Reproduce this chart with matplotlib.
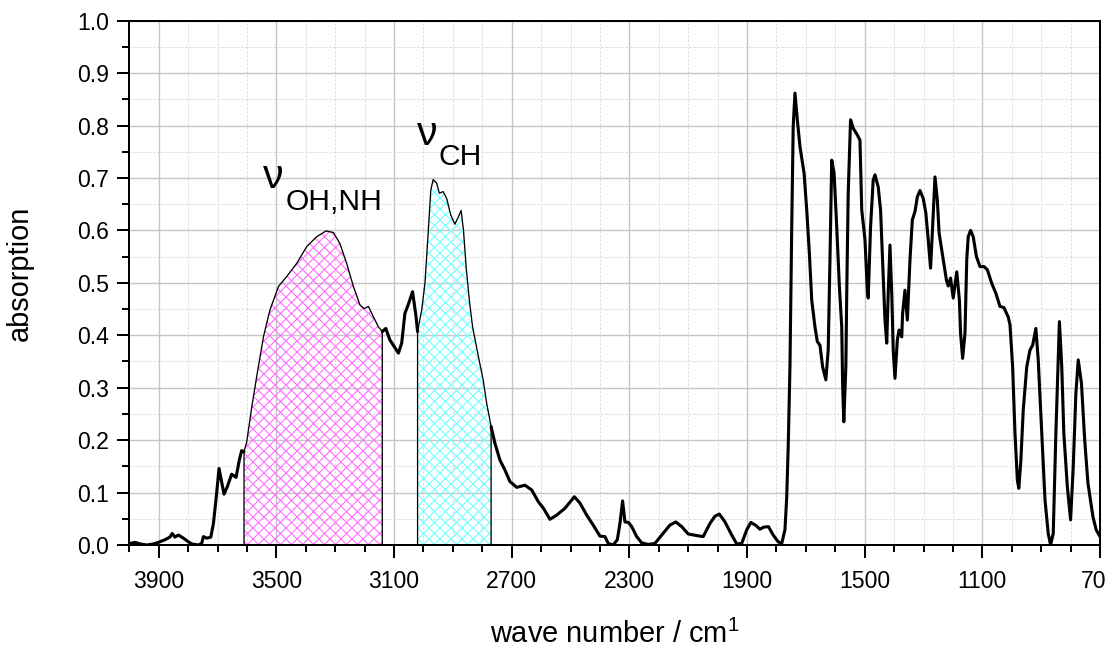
import numpy as np
import matplotlib
matplotlib.use("Agg")
import matplotlib.pyplot as plt
from matplotlib.ticker import MultipleLocator, FixedLocator, FormatStrFormatter

# ---------------- data ----------------
wavenumber = [
    3997, 3980, 3963, 3941, 3918, 3901, 3879, 3862, 3854, 3845, 3833, 3816, 3799, 3788,
    3765, 3754, 3748, 3737, 3723, 3714, 3703, 3695, 3678, 3667, 3652, 3637, 3626, 3618,
    3610, 3601, 3584, 3567, 3544, 3522, 3493, 3465, 3431, 3397, 3363, 3331, 3306, 3284,
    3261, 3238, 3216, 3202, 3187, 3170, 3153, 3140, 3128, 3114, 3099, 3085, 3074, 3063,
    3052, 3037, 3025, 3020, 3006, 2995, 2984, 2975, 2967, 2955, 2946, 2933, 2921, 2907,
    2893, 2881, 2872, 2864, 2855, 2844, 2833, 2813, 2797, 2785, 2770, 2757, 2740, 2723,
    2706, 2683, 2655, 2632, 2610, 2592, 2570, 2547, 2519, 2487, 2468, 2445, 2423, 2400,
    2383, 2372, 2355, 2341, 2332, 2323, 2315, 2303, 2292, 2275, 2258, 2236, 2213, 2190,
    2162, 2142, 2122, 2100, 2071, 2049, 2026, 2009, 1994, 1975, 1952, 1935, 1918, 1901,
    1887, 1869, 1856, 1844, 1827, 1811, 1794, 1782, 1771, 1765, 1760, 1754, 1748, 1743,
    1737, 1729, 1720, 1706, 1697, 1688, 1680, 1669, 1661, 1652, 1643, 1632, 1624, 1618,
    1612, 1604, 1595, 1586, 1578, 1575, 1571, 1564, 1561, 1556, 1548, 1539, 1525, 1516,
    1510, 1499, 1491, 1488, 1480, 1471, 1465, 1454, 1446, 1437, 1431, 1425, 1420, 1414,
    1408, 1403, 1397, 1389, 1383, 1374, 1371, 1363, 1355, 1346, 1338, 1329, 1321, 1312,
    1301, 1292, 1284, 1276, 1269, 1261, 1253, 1247, 1233, 1222, 1216, 1208, 1199, 1187,
    1178, 1174, 1167, 1159, 1153, 1148, 1140, 1131, 1120, 1108, 1094, 1083, 1068, 1054,
    1040, 1027, 1012, 1006, 997, 989, 981, 976, 969, 961, 949, 938, 929, 918,
    910, 898, 887, 876, 868, 859, 850, 838, 830, 823, 811, 800, 791, 782,
    774, 763, 752, 741, 724, 713, 700,
]
absorption = [
    0.003, 0.005, 0.002, 0.000, 0.002, 0.005, 0.010, 0.015, 0.022, 0.015, 0.019, 0.013, 0.006, 0.002,
    0.000, 0.003, 0.016, 0.013, 0.015, 0.041, 0.099, 0.146, 0.097, 0.111, 0.135, 0.129, 0.162, 0.180,
    0.178, 0.196, 0.262, 0.321, 0.397, 0.448, 0.493, 0.512, 0.537, 0.569, 0.588, 0.599, 0.596, 0.575,
    0.537, 0.493, 0.458, 0.451, 0.455, 0.435, 0.416, 0.407, 0.413, 0.391, 0.378, 0.366, 0.385, 0.442,
    0.458, 0.483, 0.435, 0.407, 0.448, 0.499, 0.595, 0.677, 0.697, 0.690, 0.671, 0.674, 0.661, 0.629,
    0.612, 0.626, 0.638, 0.601, 0.531, 0.467, 0.416, 0.359, 0.315, 0.270, 0.226, 0.194, 0.162, 0.143,
    0.121, 0.110, 0.114, 0.105, 0.083, 0.070, 0.049, 0.057, 0.070, 0.092, 0.080, 0.057, 0.038, 0.017,
    0.016, 0.003, 0.000, 0.010, 0.041, 0.084, 0.044, 0.043, 0.035, 0.016, 0.004, 0.001, 0.003, 0.019,
    0.038, 0.044, 0.035, 0.021, 0.018, 0.016, 0.041, 0.055, 0.059, 0.044, 0.019, 0.002, 0.003, 0.029,
    0.043, 0.037, 0.030, 0.034, 0.035, 0.019, 0.006, 0.003, 0.029, 0.092, 0.187, 0.340, 0.607, 0.798,
    0.862, 0.811, 0.760, 0.709, 0.639, 0.556, 0.467, 0.416, 0.388, 0.381, 0.340, 0.315, 0.372, 0.544,
    0.734, 0.709, 0.607, 0.493, 0.416, 0.308, 0.235, 0.340, 0.480, 0.671, 0.811, 0.795, 0.782, 0.772,
    0.639, 0.582, 0.486, 0.471, 0.607, 0.696, 0.706, 0.683, 0.639, 0.512, 0.429, 0.385, 0.480, 0.572,
    0.480, 0.372, 0.318, 0.391, 0.410, 0.397, 0.442, 0.486, 0.429, 0.544, 0.620, 0.636, 0.664, 0.676,
    0.661, 0.633, 0.582, 0.528, 0.607, 0.702, 0.658, 0.595, 0.544, 0.505, 0.494, 0.509, 0.471, 0.521,
    0.467, 0.404, 0.356, 0.404, 0.544, 0.588, 0.600, 0.588, 0.550, 0.531, 0.531, 0.525, 0.499, 0.480,
    0.455, 0.453, 0.435, 0.420, 0.340, 0.213, 0.124, 0.108, 0.162, 0.257, 0.340, 0.372, 0.381, 0.413,
    0.353, 0.213, 0.086, 0.022, 0.000, 0.022, 0.213, 0.426, 0.340, 0.213, 0.111, 0.048, 0.149, 0.289,
    0.353, 0.308, 0.200, 0.118, 0.054, 0.029, 0.016,
]
oh_nh_range = (3610, 3140)   # shaded nu(OH,NH) band
ch_range = (3020, 2770)      # shaded nu(CH) band
x_major_ticks = [3900, 3500, 3100, 2700, 2300, 1900, 1500, 1100, 700]
y_major_ticks = [0.0, 0.1, 0.2, 0.3, 0.4, 0.5, 0.6, 0.7, 0.8, 0.9, 1.0]

# ---------------- style ----------------
DPI = 132
W, H = 1105, 652


def px(v):
    return v * 72.0 / DPI


plt.rcParams["font.family"] = ["Liberation Sans", "DejaVu Sans"]
plt.rcParams["mathtext.fontset"] = "custom"
plt.rcParams["mathtext.rm"] = "Liberation Sans"
plt.rcParams["mathtext.it"] = "Liberation Sans:italic"
plt.rcParams["hatch.linewidth"] = px(1.1)

x = np.array(wavenumber, dtype=float)
y = np.array(absorption, dtype=float)

fig = plt.figure(figsize=(W / DPI, H / DPI), dpi=DPI)
L, R, T, B = 129.3, 1100.0, 20.7, 545.0
ax = fig.add_axes([L / W, (H - B) / H, (R - L) / W, (B - T) / H])
ax.set_xlim(4000, 700)
ax.set_ylim(0, 1.0)

# grid
ax.set_axisbelow(True)
ax.xaxis.set_major_locator(FixedLocator(x_major_ticks))
ax.xaxis.set_minor_locator(MultipleLocator(100))
ax.yaxis.set_major_locator(FixedLocator(y_major_ticks))
ax.yaxis.set_minor_locator(MultipleLocator(0.05))
ax.yaxis.set_major_formatter(FormatStrFormatter("%.1f"))
ax.grid(which="major", color="#c6c6c6", lw=px(1.4), ls="-")
ax.grid(which="minor", color="#d6d6d6", lw=px(1.0), ls=(0, (2, 2)))

# shaded bands
for (hi, lo), col in ((oh_nh_range, "#ff6eff"), (ch_range, "#6effff")):
    m = (x <= hi) & (x >= lo)
    ax.fill_between(x[m], y[m], 0, facecolor="none", edgecolor=col,
                    hatch="xxxx", linewidth=0, zorder=2)
    ax.fill_between(x[m], y[m], 0, facecolor="none", edgecolor="black",
                    linewidth=px(1.3), zorder=3)

# thick spectrum outside the shaded bands
inside = ((x < oh_nh_range[0]) & (x > oh_nh_range[1])) | ((x < ch_range[0]) & (x > ch_range[1]))
y_thick = np.where(inside, np.nan, y)
ax.plot(x, y_thick, color="black", lw=px(3.1), solid_joinstyle="round",
        solid_capstyle="round", zorder=4)

# spines & ticks
for s in ax.spines.values():
    s.set_linewidth(px(2))
ax.tick_params(which="major", direction="out", length=px(12.5), width=px(2),
               labelsize=px(23), top=False, right=False)
ax.tick_params(which="minor", direction="out", length=px(6.7), width=px(2),
               top=False, right=False)
ax.tick_params(axis="x", which="major", pad=px(12))
ax.tick_params(axis="y", which="major", pad=px(8))

ax.set_ylabel("absorption", fontsize=px(29))
ax.yaxis.set_label_coords((34 - L) / (R - L), (B - 273.5) / (B - T))
ax.set_xlabel("wave number / cm$^{1}$", fontsize=px(29))
ax.xaxis.label.set_va("baseline")
ax.xaxis.set_label_coords(0.5, (B - 643) / (B - T))

# band annotations
ax.text(3545, 0.681, "ν", fontsize=px(41), ha="left", va="baseline")
ax.text(3470, 0.639, "OH,NH", fontsize=px(30), ha="left", va="baseline")
ax.text(3023, 0.763, "ν", fontsize=px(41), ha="left", va="baseline")
ax.text(2950, 0.725, "CH", fontsize=px(30), ha="left", va="baseline")

fig.savefig("out.png", dpi=DPI)
